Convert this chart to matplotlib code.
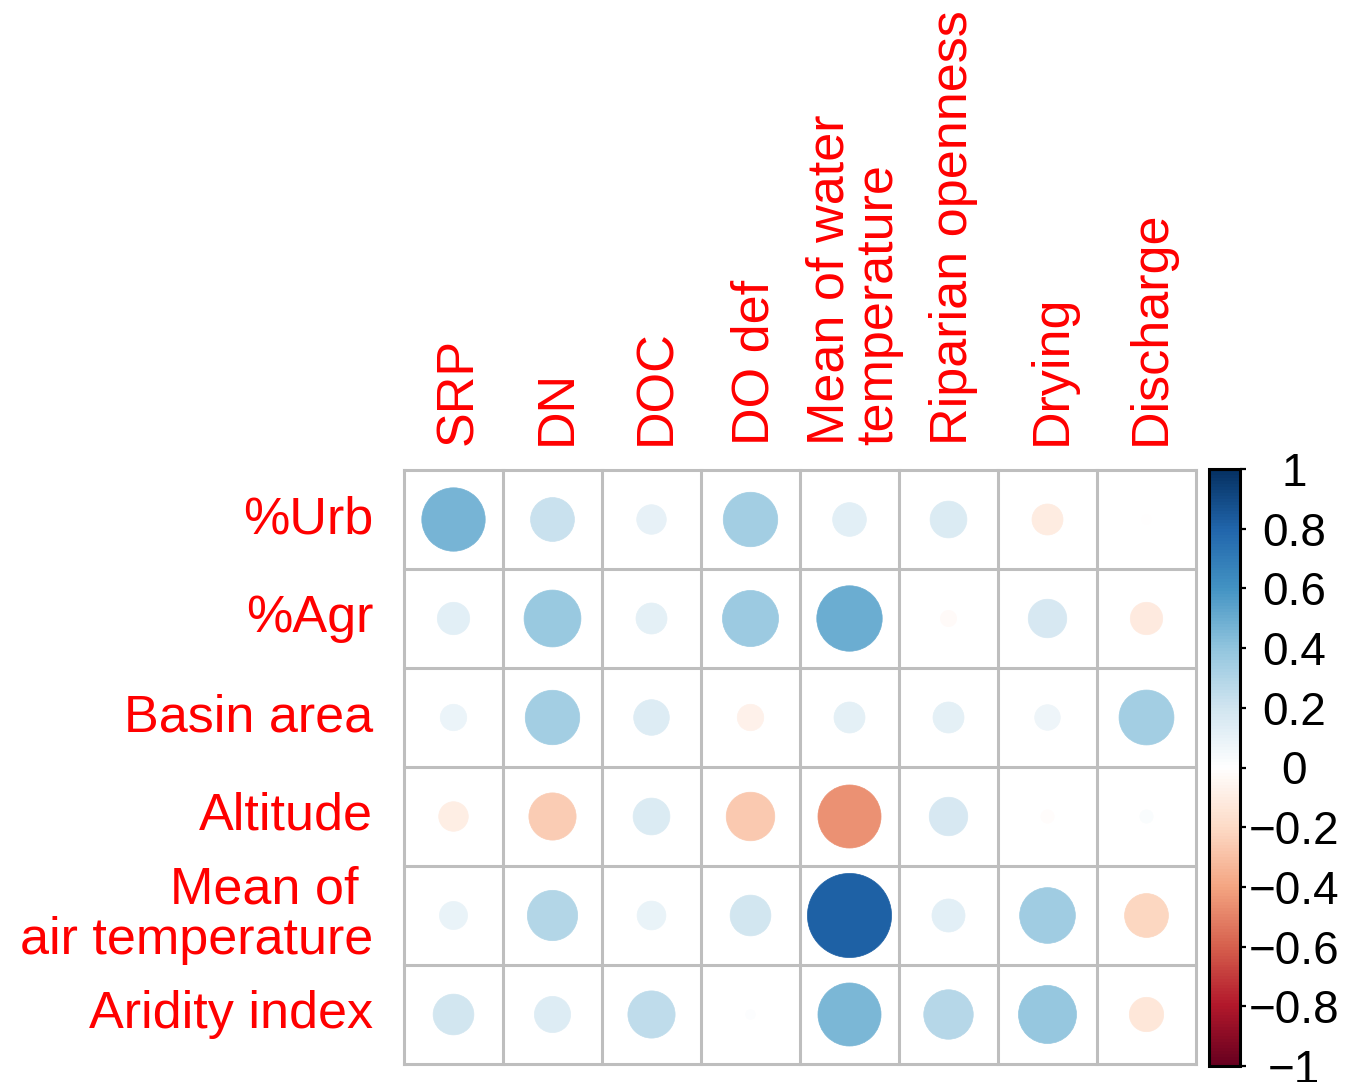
import numpy as np
import matplotlib
matplotlib.use("Agg")
import matplotlib.pyplot as plt
from matplotlib.colors import LinearSegmentedColormap, Normalize
from matplotlib.patches import Circle
from matplotlib.cm import ScalarMappable

plt.rcParams['font.family'] = ['Liberation Sans', 'DejaVu Sans']

# Variables
row_labels = ["%Urb", "%Agr", "Basin area", "Altitude",
              "Mean of \nair temperature", "Aridity index"]
col_labels = ["SRP", "DN", "DOC", "DO def", "Mean of water\ntemperature",
              "Riparian openness", "Drying", "Discharge"]

# Correlation coefficients, one list per row variable
r_urb = [0.46, 0.22, 0.10, 0.34, 0.13, 0.155, -0.11, -0.01]
r_agr = [0.12, 0.37, 0.11, 0.36, 0.49, -0.03, 0.17, -0.12]
r_basin = [0.08, 0.34, 0.145, -0.08, 0.11, 0.11, 0.075, 0.345]
r_alt = [-0.10, -0.255, 0.155, -0.27, -0.455, 0.17, -0.02, 0.02]
r_air = [0.09, 0.29, 0.095, 0.19, 0.81, 0.125, 0.355, -0.22]
r_arid = [0.19, 0.15, 0.255, 0.01, 0.455, 0.28, 0.385, -0.135]

cbar_ticks = [-1, -0.8, -0.6, -0.4, -0.2, 0, 0.2, 0.4, 0.6, 0.8, 1]
cbar_ticklabels = ["\u22121", "\u22120.8", "\u22120.6", "\u22120.4", "\u22120.2",
                   "0", "0.2", "0.4", "0.6", "0.8", "1"]

corr = np.array([r_urb, r_agr, r_basin, r_alt, r_air, r_arid])
n_rows, n_cols = corr.shape

# Diverging red-white-blue palette
palette = ["#67001F", "#B2182B", "#D6604D", "#F4A582", "#FDDBC7", "#FFFFFF",
           "#D1E5F0", "#92C5DE", "#4393C3", "#2166AC", "#053061"]
cmap = LinearSegmentedColormap.from_list("rdbu_corr", palette, N=200)
norm = Normalize(vmin=-1, vmax=1)

W, H = 1349, 1082
fig = plt.figure(figsize=(W / 100, H / 100), dpi=100)

gx0, gx1, gy0, gy1 = 404, 1196, 470, 1064
ax = fig.add_axes([gx0 / W, 1 - gy1 / H, (gx1 - gx0) / W, (gy1 - gy0) / H])
ax.set_xlim(0, n_cols)
ax.set_ylim(0, n_rows)
ax.axis('off')

label_red = "#FF0000"
fs = 37.5

# Circles: area proportional to |r|
size_scale = 0.472
for i in range(n_rows):
    for j in range(n_cols):
        r = corr[i, j]
        cx, cy = j + 0.5, n_rows - i - 0.5
        rad = size_scale * np.sqrt(abs(r))
        col = cmap(norm(r))
        ax.add_patch(Circle((cx, cy), rad, facecolor=col, edgecolor=col,
                            lw=0.5, zorder=2))

# Grid
grid_col = "#BEBEBE"
for k in range(n_cols + 1):
    ax.plot([k, k], [0, n_rows], color=grid_col, lw=2.2, clip_on=False,
            zorder=3, solid_capstyle='projecting')
for k in range(n_rows + 1):
    ax.plot([0, n_cols], [k, k], color=grid_col, lw=2.2, clip_on=False,
            zorder=3, solid_capstyle='projecting')

# Row labels
for i, lab in enumerate(row_labels):
    ax.text(-0.31, n_rows - i - 0.5, lab, ha='right', va='center',
            multialignment='right', color=label_red, fontsize=fs,
            linespacing=1.05)

# Column labels
for j, lab in enumerate(col_labels):
    ax.text(j + 0.55, n_rows + 0.25, lab, rotation=90, ha='center',
            va='bottom', multialignment='left', color=label_red,
            fontsize=fs, linespacing=1.0)

# Colour legend
cax = fig.add_axes([1209 / W, 1 - 1066 / H, 31 / W, (1066 - 469) / H])
sm = ScalarMappable(norm=norm, cmap=cmap)
cb = fig.colorbar(sm, cax=cax, ticks=cbar_ticks)
cb.outline.set_linewidth(2.2)
cb.outline.set_edgecolor('black')
cb.set_ticklabels(cbar_ticklabels)
cax.tick_params(axis='y', length=4, width=1.6, labelsize=33, pad=35,
                colors='black')
for t in cax.get_yticklabels():
    t.set_ha('center')

fig.savefig("out.png", dpi=100, facecolor='white')
